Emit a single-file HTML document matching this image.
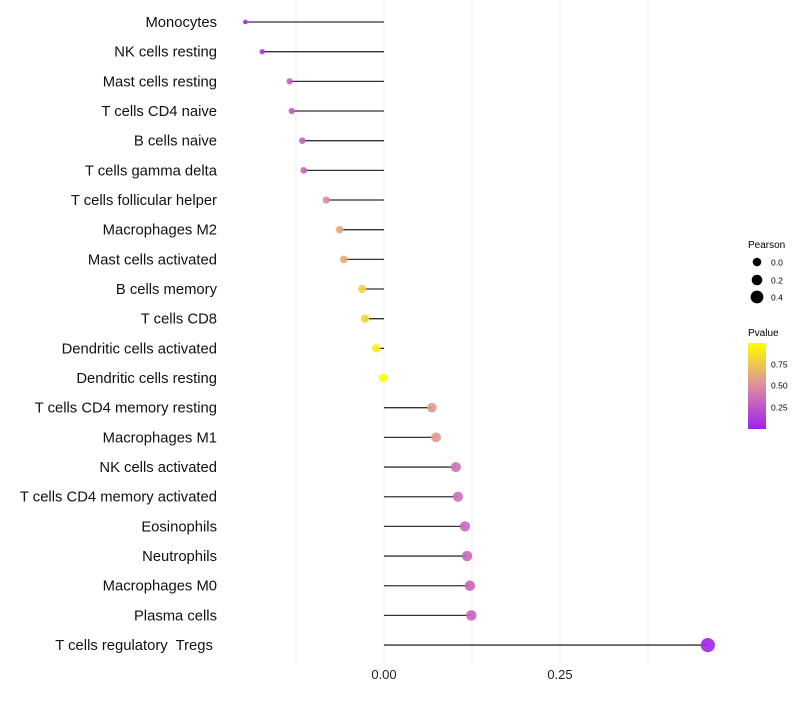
<!DOCTYPE html>
<html><head><meta charset="utf-8"><style>
body{margin:0;background:#fff;}
svg text{font-family:"Liberation Sans",Arial,sans-serif;white-space:pre;}
</style></head><body>
<svg id="chart" width="800" height="700" xmlns="http://www.w3.org/2000/svg">
<defs><linearGradient id="pg" x1="0" y1="1" x2="0" y2="0">
<stop offset="0" stop-color="#a020f0"/><stop offset="0.5" stop-color="#dc8ca0"/><stop offset="1" stop-color="#ffff00"/>
</linearGradient></defs>
<g id="grid"></g><g id="marks"></g><g id="labels"></g><g id="xaxis"></g>
<g>
<text x="748" y="248" font-size="10">Pearson</text>
<circle cx="757" cy="262" r="4.3" fill="#000"/><text x="771" y="265.5" font-size="8.5">0.0</text>
<circle cx="757" cy="280" r="5.3" fill="#000"/><text x="771" y="283.5" font-size="8.5">0.2</text>
<circle cx="757" cy="297" r="6.4" fill="#000"/><text x="771" y="300.5" font-size="8.5">0.4</text>
</g>
<g>
<text x="748" y="336" font-size="10">Pvalue</text>
<rect x="748" y="343" width="18" height="86" fill="url(#pg)"/>
<text x="771" y="367.5" font-size="8.5">0.75</text>
<text x="771" y="388.5" font-size="8.5">0.50</text>
<text x="771" y="410.5" font-size="8.5">0.25</text>
</g>
</svg>
<script>
const categories=["Monocytes","NK cells resting","Mast cells resting","T cells CD4 naive","B cells naive","T cells gamma delta","T cells follicular helper","Macrophages M2","Mast cells activated","B cells memory","T cells CD8","Dendritic cells activated","Dendritic cells resting","T cells CD4 memory resting","Macrophages M1","NK cells activated","T cells CD4 memory activated","Eosinophils","Neutrophils","Macrophages M0","Plasma cells","T cells regulatory  Tregs "];
const pearson=[-0.197,-0.173,-0.134,-0.131,-0.116,-0.114,-0.082,-0.063,-0.057,-0.031,-0.027,-0.011,-0.001,0.068,0.074,0.102,0.105,0.115,0.118,0.122,0.124,0.460];
const pvalues=[0.05,0.12,0.27,0.29,0.31,0.33,0.5,0.62,0.63,0.8,0.82,0.93,0.99,0.56,0.56,0.38,0.38,0.33,0.33,0.32,0.32,0.03];
const xTicks=[0,0.25];
const xMinor=[-0.125,0.125,0.375];
const NS="http://www.w3.org/2000/svg";
const x=v=>384+v*704;
const y=i=>22+i*29.67;
const rad=v=>Math.sqrt(Math.max(3,19+68.5*v));
function col(p){const a=[160,32,240],b=[220,140,160],c=[255,255,0];let s,e,t;if(p<0.5){s=a;e=b;t=p/0.5}else{s=b;e=c;t=(p-0.5)/0.5}return `rgb(${s.map((v,k)=>Math.round(v+(e[k]-v)*t)).join(",")})`;}
function mk(tag,attrs,parent){const el=document.createElementNS(NS,tag);for(const k in attrs)el.setAttribute(k,attrs[k]);document.getElementById(parent).appendChild(el);return el;}
xMinor.concat(xTicks).forEach(v=>{
const g=mk("line",{x1:x(v),x2:x(v),y1:0,y2:662,stroke:"#efefef","stroke-width":1},"grid");

});
xTicks.forEach(v=>{const t=mk("text",{x:x(v),y:679,"font-size":"13","text-anchor":"middle",fill:"#222"},"xaxis");t.textContent=v.toFixed(2);

});
categories.forEach((c,i)=>{
const t=mk("text",{x:217,y:y(i)+5,"font-size":"14.8","text-anchor":"end",fill:"#111"},"labels");t.textContent=c;


const l=mk("line",{x1:x(0),x2:x(pearson[i]),y1:y(i),y2:y(i),stroke:"#333","stroke-width":1.3},"marks");


const p=mk("circle",{cx:x(pearson[i]),cy:y(i),r:rad(pearson[i]),fill:col(pvalues[i]),"fill-opacity":0.9},"marks");


});
</script>
</body></html>
